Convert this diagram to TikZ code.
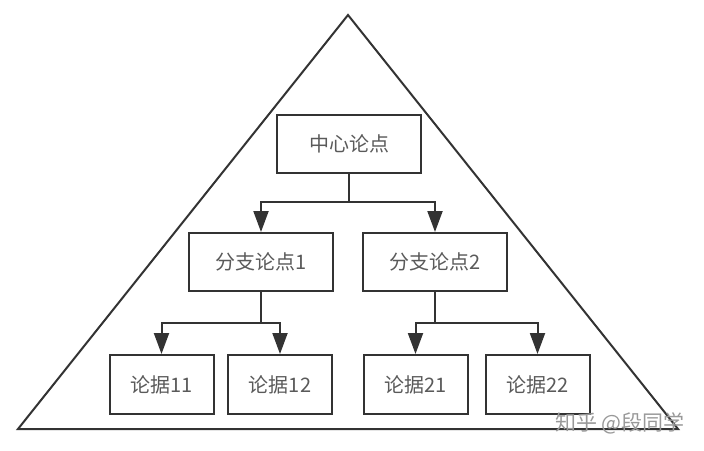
\documentclass[tikz,border=0pt]{standalone}
\usepackage{fontspec}
\newfontfamily\cjk{Noto Sans CJK SC}
\usetikzlibrary{arrows.meta}
\definecolor{linec}{HTML}{333333}
\definecolor{textc}{HTML}{5A5A5A}
\begin{document}
\begin{tikzpicture}[x=1pt,y=-1pt,
  box/.style={draw=linec, line width=2pt, fill=white, minimum width=144pt, minimum height=58pt, inner sep=0pt, font=\cjk\fontsize{20}{20}\selectfont, text=textc},
  leaf/.style={box, minimum width=104pt, minimum height=59pt},
  conn/.style={draw=linec, line width=2pt},
  arr/.style={conn, -{Triangle[length=21pt,width=15pt]}}]
\useasboundingbox (0,0) rectangle (704,450);
\fill[white] (0,0) rectangle (704,450);
\draw[conn, line join=miter] (348,15) -- (678,429) -- (18,429) -- cycle;
\node[box] (c) at (349,144) {中心论点};
\node[box] (b1) at (261,262) {分支论点1};
\node[box] (b2) at (435,262) {分支论点2};
\node[leaf] (l11) at (161.5,384.5) {论据11};
\node[leaf] (l12) at (280,384.5) {论据12};
\node[leaf] (l21) at (415.5,384.5) {论据21};
\node[leaf] (l22) at (537.5,384.5) {论据22};
\coordinate (j0) at (349,202);
\coordinate (j1) at (261,323);
\coordinate (j2) at (435,323);
\draw[conn] (c) -- (j0);
\draw[arr] (j0) -| (b1);
\draw[arr] (j0) -| (b2);
\draw[conn] (b1) -- (j1);
\draw[arr] (j1) -| (l11);
\draw[arr] (j1) -| (l12);
\draw[conn] (b2) -- (j2);
\draw[arr] (j2) -| (l21);
\draw[arr] (j2) -| (l22);
\node[font=\cjk\fontsize{21}{21}\selectfont, text=black!40, inner sep=0pt] (wm) at (620,423) {知乎 @段同学};
\end{tikzpicture}
\end{document}
